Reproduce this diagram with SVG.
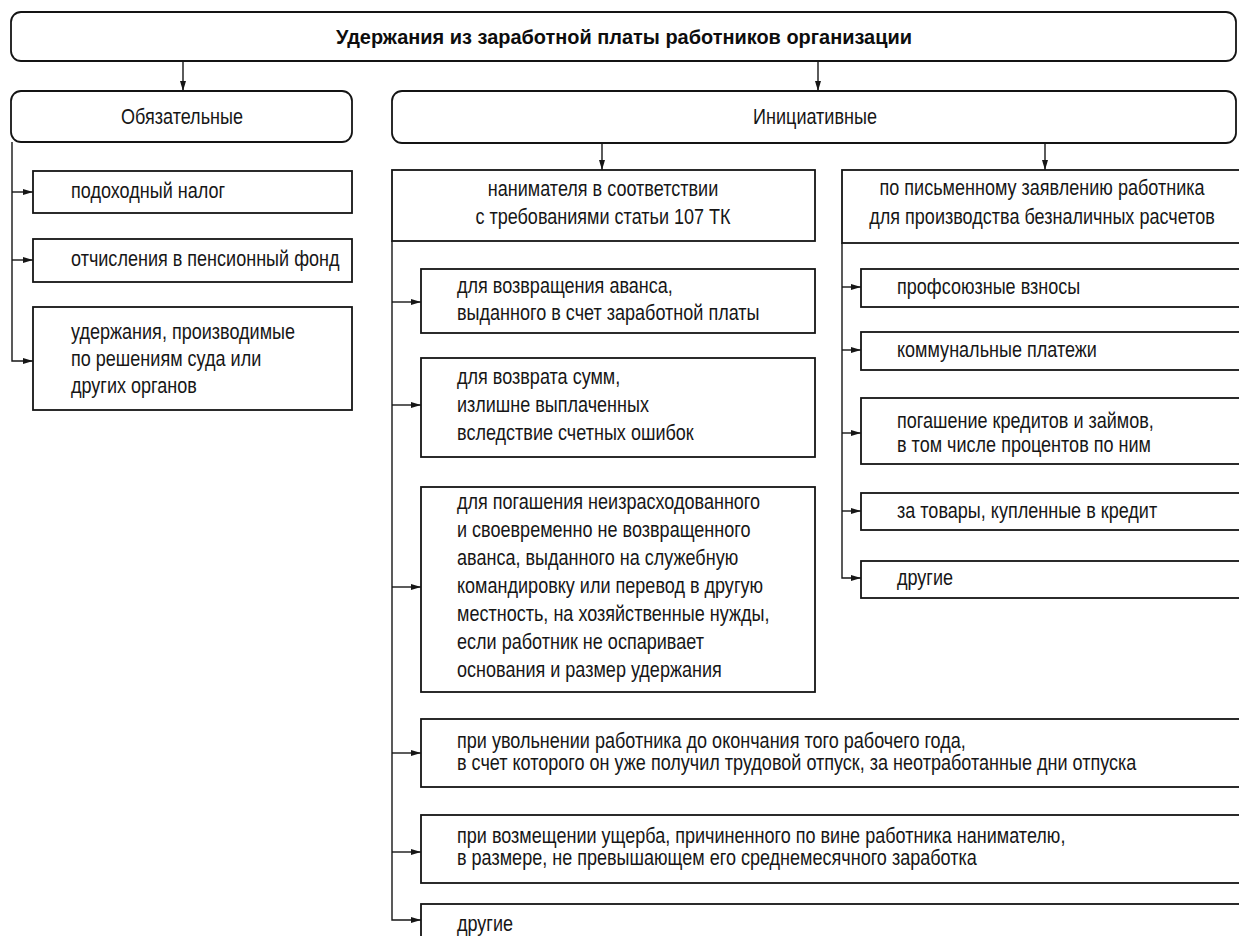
<svg xmlns="http://www.w3.org/2000/svg" width="1239" height="936" viewBox="0 0 1239 936">
<style>
  .box { fill: #ffffff; stroke: #141414; stroke-width: 1.8; }
  .t { font-family: "Liberation Sans", Arial, sans-serif; font-size: 22px; fill: #161616; }
  .tb { font-family: "Liberation Sans", Arial, sans-serif; font-size: 21px; font-weight: bold; fill: #0d0d0d; }
  .c { text-anchor: middle; }
  .ln { fill: none; stroke: #161616; stroke-width: 1.4; }
</style>
<defs>
  <marker id="ah" markerUnits="userSpaceOnUse" markerWidth="11" markerHeight="8" refX="10" refY="4" orient="auto">
    <path d="M0,1 L10,4 L0,7 Z" fill="#161616"/>
  </marker>
</defs>
<rect width="1239" height="936" fill="#ffffff"/>

<g id="connectors">
  <line class="ln" x1="183" y1="61" x2="183" y2="91" marker-end="url(#ah)"/>
  <line class="ln" x1="818" y1="61" x2="818" y2="91" marker-end="url(#ah)"/>
  <line class="ln" x1="602" y1="143" x2="602" y2="170" marker-end="url(#ah)"/>
  <line class="ln" x1="1045" y1="143" x2="1045" y2="170" marker-end="url(#ah)"/>

  <path class="ln" d="M12,142 V361 H33" marker-end="url(#ah)"/>
  <line class="ln" x1="12" y1="192" x2="33" y2="192" marker-end="url(#ah)"/>
  <line class="ln" x1="12" y1="260" x2="33" y2="260" marker-end="url(#ah)"/>

  <path class="ln" d="M392,241 V920 H421" marker-end="url(#ah)"/>
  <line class="ln" x1="392" y1="302" x2="421" y2="302" marker-end="url(#ah)"/>
  <line class="ln" x1="392" y1="405" x2="421" y2="405" marker-end="url(#ah)"/>
  <line class="ln" x1="392" y1="587" x2="421" y2="587" marker-end="url(#ah)"/>
  <line class="ln" x1="392" y1="753" x2="421" y2="753" marker-end="url(#ah)"/>
  <line class="ln" x1="392" y1="852" x2="421" y2="852" marker-end="url(#ah)"/>

  <path class="ln" d="M842,243 V578 H861" marker-end="url(#ah)"/>
  <line class="ln" x1="842" y1="287" x2="861" y2="287" marker-end="url(#ah)"/>
  <line class="ln" x1="842" y1="350" x2="861" y2="350" marker-end="url(#ah)"/>
  <line class="ln" x1="842" y1="433" x2="861" y2="433" marker-end="url(#ah)"/>
  <line class="ln" x1="842" y1="511" x2="861" y2="511" marker-end="url(#ah)"/>
</g>

<g id="root">
  <rect class="box" x="11" y="12" width="1225" height="49" rx="10"/>
  <text class="tb c" transform="translate(624 44) scale(0.95 1)">Удержания из заработной платы работников организации</text>
</g>

<g id="obyazatelnye">
  <rect class="box" x="11" y="91" width="341" height="51" rx="10"/>
  <text class="t c" transform="translate(182 124) scale(0.82 1)">Обязательные</text>
</g>

<g id="initsiativnye">
  <rect class="box" x="392" y="91" width="844" height="52" rx="10"/>
  <text class="t c" transform="translate(815 124) scale(0.82 1)">Инициативные</text>
</g>

<g id="podohodny">
  <rect class="box" x="33" y="171" width="319" height="42"/>
  <text class="t" transform="translate(71 198) scale(0.82 1)">подоходный налог</text>
</g>

<g id="otchisleniya">
  <rect class="box" x="33" y="239" width="319" height="43"/>
  <text class="t" transform="translate(71 266) scale(0.82 1)">отчисления в пенсионный фонд</text>
</g>

<g id="uderzhaniya-sud">
  <rect class="box" x="33" y="307" width="319" height="103"/>
  <text class="t" transform="translate(71 339) scale(0.82 1)">удержания, производимые</text>
  <text class="t" transform="translate(71 366) scale(0.82 1)">по решениям суда или</text>
  <text class="t" transform="translate(71 393) scale(0.82 1)">других органов</text>
</g>

<g id="nanimatelya">
  <rect class="box" x="392" y="170" width="423" height="71"/>
  <text class="t c" transform="translate(603 196) scale(0.82 1)">нанимателя в соответствии</text>
  <text class="t c" transform="translate(603 224) scale(0.82 1)">с требованиями статьи 107 ТК</text>
</g>

<g id="po-zayavleniyu">
  <rect class="box" x="842" y="170" width="410" height="73"/>
  <text class="t c" transform="translate(1042 195) scale(0.82 1)">по письменному заявлению работника</text>
  <text class="t c" transform="translate(1042 224) scale(0.82 1)">для производства безналичных расчетов</text>
</g>

<g id="avans">
  <rect class="box" x="421" y="269" width="394" height="64"/>
  <text class="t" transform="translate(457 293) scale(0.82 1)">для возвращения аванса,</text>
  <text class="t" transform="translate(457 320) scale(0.82 1)">выданного в счет заработной платы</text>
</g>

<g id="vozvrat-summ">
  <rect class="box" x="421" y="358" width="394" height="99"/>
  <text class="t" transform="translate(457 384) scale(0.82 1)">для возврата сумм,</text>
  <text class="t" transform="translate(457 412) scale(0.82 1)">излишне выплаченных</text>
  <text class="t" transform="translate(457 440) scale(0.82 1)">вследствие счетных ошибок</text>
</g>

<g id="pogashenie-avansa">
  <rect class="box" x="421" y="487" width="394" height="205"/>
  <text class="t" transform="translate(457 509) scale(0.82 1)">для погашения неизрасходованного</text>
  <text class="t" transform="translate(457 537) scale(0.82 1)">и своевременно не возвращенного</text>
  <text class="t" transform="translate(457 565) scale(0.82 1)">аванса, выданного на служебную</text>
  <text class="t" transform="translate(457 593) scale(0.82 1)">командировку или перевод в другую</text>
  <text class="t" transform="translate(457 621) scale(0.82 1)">местность, на хозяйственные нужды,</text>
  <text class="t" transform="translate(457 649) scale(0.82 1)">если работник не оспаривает</text>
  <text class="t" transform="translate(457 677) scale(0.82 1)">основания и размер удержания</text>
</g>

<g id="uvolnenie">
  <rect class="box" x="421" y="719" width="830" height="68"/>
  <text class="t" transform="translate(457 748) scale(0.82 1)">при увольнении работника до окончания того рабочего года,</text>
  <text class="t" transform="translate(457 770) scale(0.82 1)">в счет которого он уже получил трудовой отпуск, за неотработанные дни отпуска</text>
</g>

<g id="uscherb">
  <rect class="box" x="421" y="815" width="830" height="68"/>
  <text class="t" transform="translate(457 843) scale(0.82 1)">при возмещении ущерба, причиненного по вине работника нанимателю,</text>
  <text class="t" transform="translate(457 865) scale(0.82 1)">в размере, не превышающем его среднемесячного заработка</text>
</g>

<g id="drugie-1">
  <rect class="box" x="421" y="904" width="830" height="50"/>
  <text class="t" transform="translate(457 931) scale(0.82 1)">другие</text>
</g>

<g id="profsoyuz">
  <rect class="box" x="861" y="269" width="390" height="38"/>
  <text class="t" transform="translate(897 294) scale(0.82 1)">профсоюзные взносы</text>
</g>

<g id="kommunalnye">
  <rect class="box" x="861" y="332" width="390" height="38"/>
  <text class="t" transform="translate(897 357) scale(0.82 1)">коммунальные платежи</text>
</g>

<g id="krediti">
  <rect class="box" x="861" y="398" width="390" height="66"/>
  <text class="t" transform="translate(897 428) scale(0.82 1)">погашение кредитов и займов,</text>
  <text class="t" transform="translate(897 452) scale(0.82 1)">в том числе процентов по ним</text>
</g>

<g id="tovary">
  <rect class="box" x="861" y="493" width="390" height="37"/>
  <text class="t" transform="translate(897 518) scale(0.82 1)">за товары, купленные в кредит</text>
</g>

<g id="drugie-2">
  <rect class="box" x="861" y="561" width="390" height="37"/>
  <text class="t" transform="translate(897 585) scale(0.82 1)">другие</text>
</g>
</svg>
